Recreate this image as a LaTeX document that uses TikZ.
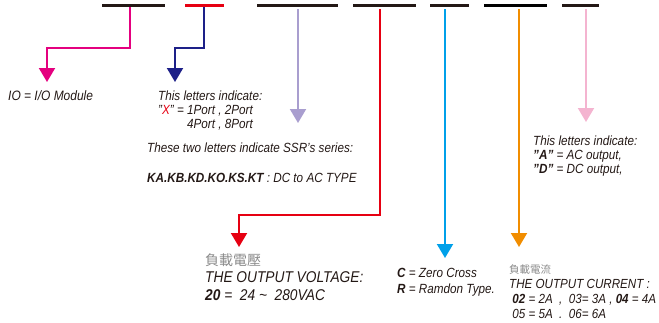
\documentclass[tikz,border=0pt]{standalone}
\usepackage{fontspec}
\setmainfont{Liberation Sans}[FakeStretch=0.88]
\newfontfamily\cjk{Noto Sans CJK TC}
\usetikzlibrary{arrows.meta}
\definecolor{ink}{HTML}{231815}
\definecolor{cjkgray}{HTML}{8A8A8A}
\definecolor{magentaC}{HTML}{E4007F}
\definecolor{navyC}{HTML}{1D2088}
\definecolor{lilacC}{HTML}{A99ECF}
\definecolor{redC}{HTML}{E60012}
\definecolor{cyanC}{HTML}{00A0E9}
\definecolor{orangeC}{HTML}{F18D00}
\definecolor{pinkC}{HTML}{F4B4D0}

\begin{document}
\begin{tikzpicture}[x=1pt, y=-1pt,
    bar/.style={draw=ink, line width=3pt},
    link/.style={line width=2pt, -{Triangle[width=16pt,length=14pt]}},
    note/.style={anchor=base west, inner sep=0pt, align=left, text=ink, font=\itshape\fontsize{13.3}{14}\selectfont},
    han/.style={anchor=base west, inner sep=0pt, text=cjkgray}]
    \useasboundingbox (0,0) rectangle (659,322);

    % code field bars
    \draw [bar] (102,5) -- (165,5);
    \draw [bar, draw=redC] (185,5) -- (224,5);
    \draw [bar] (257,5) -- (338,5);
    \draw [bar] (353,5) -- (416,5);
    \draw [bar] (430,5) -- (469,5);
    \draw [bar, draw=black] (484,5) -- (547,5);
    \draw [bar] (562,5) -- (599,5);

    % start points, knees and tips of the connectors
    \coordinate (io) at (130,7);    \coordinate (ioK) at (47,48);   \coordinate (ioT) at (47,82);
    \coordinate (port) at (204,7);  \coordinate (portK) at (175,48); \coordinate (portT) at (175,82);
    \coordinate (ser) at (298,9);   \coordinate (serT) at (298,123);
    \coordinate (volt) at (380,9);  \coordinate (voltK) at (239,215); \coordinate (voltT) at (239,247);
    \coordinate (zc) at (445,9);    \coordinate (zcT) at (445,258);
    \coordinate (cur) at (519,9);   \coordinate (curT) at (519,247);
    \coordinate (out) at (586,9);   \coordinate (outT) at (586,122);

    % explanations (base = last line)
    \node [note, font=\itshape\fontsize{13.6}{14}\selectfont] (ioN) at (8,100) {IO = I/O Module};
    \node [note] (portN) at (158,128) {This letters indicate:\\
        "\textcolor{redC}{X}" = 1Port , 2Port\\
        \phantom{"X" = }4Port , 8Port};
    \node [note] (serN) at (147,152) {These two letters indicate SSR's series:};
    \node [note] (kindN) at (147,182) {\textbf{KA.KB.KD.KO.KS.KT} : DC to AC TYPE};
    \node [han, font=\cjk\fontsize{14}{14}\selectfont] (voltH) at (205,265) {負載電壓};
    \node [note, font=\itshape\fontsize{15.6}{18}\selectfont] (voltN) at (205,300) {THE OUTPUT VOLTAGE:\\
        \textbf{20} =\ \ 24 \textasciitilde\ \ 280VAC};
    \node [han, font=\cjk\fontsize{10.5}{12}\selectfont] (curH) at (509,273) {負載電流};
    \node [note, font=\itshape\fontsize{13.3}{16}\selectfont] (zcN) at (397,293) {\textbf{C} = Zero Cross\\
        \textbf{R} = Ramdon Type.};
    \node [note, font=\itshape\fontsize{13.2}{15}\selectfont] (curN) at (509,318.5) {THE OUTPUT CURRENT :\\
        \ \textbf{02} = 2A\ \ ,\ \ 03= 3A , \textbf{04} = 4A\\
        \ 05 = 5A\ \ .\ \ 06= 6A};
    \node [note] (outN) at (533,173) {This letters indicate:\\
        \textbf{"A"} = AC output,\\
        \textbf{"D"} = DC output,};

    % connectors
    \draw [link, color=magentaC] (io) |- (ioK) -- (ioT);
    \draw [link, color=navyC] (port) |- (portK) -- (portT);
    \draw [link, color=lilacC] (ser) -- (serT);
    \draw [link, color=redC] (volt) |- (voltK) -- (voltT);
    \draw [link, color=cyanC] (zc) -- (zcT);
    \draw [link, color=orangeC] (cur) -- (curT);
    \draw [link, color=pinkC] (out) -- (outT);
\end{tikzpicture}
\end{document}
